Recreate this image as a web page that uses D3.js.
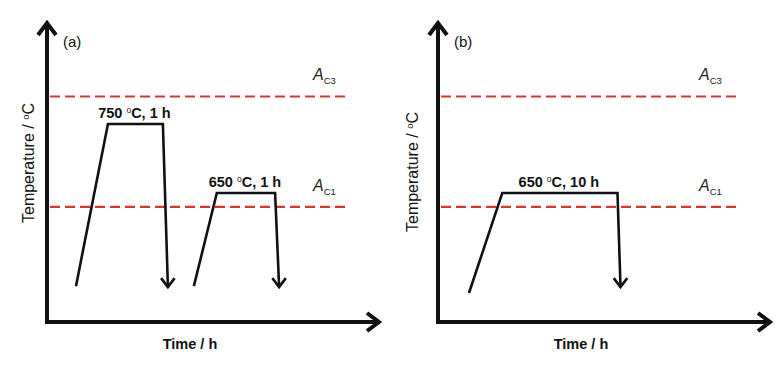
<!DOCTYPE html>
<html><head><meta charset="utf-8">
<script src="https://cdn.jsdelivr.net/npm/d3@7"></script>
<style>
html,body{margin:0;padding:0;background:#fff;}
svg{display:block;font-family:"Liberation Sans",Arial,sans-serif;}
</style></head>
<body><svg id="chart" width="783" height="367"></svg>
<script>
// ---- data (schematic time units, temperature in °C) ----
const panels = ["(a)", "(b)"];
const criticalTemps = [{name:"C3", T:790}, {name:"C1", T:630}];
// panel (a): two treatments
const profileA1 = [{t:8.7,T:515},{t:18.3,T:750},{t:34.8,T:750},{t:36.3,T:515}];
const profileA2 = [{t:44.1,T:515},{t:51.0,T:650},{t:68.5,T:650},{t:69.7,T:515}];
// panel (b): one treatment
const profileB1 = [{t:9.3,T:505},{t:19.3,T:650},{t:53.9,T:650},{t:54.8,T:515}];
const labelsA = [{temp:"750", dur:"1 h"},{temp:"650", dur:"1 h"}];
const labelsB = [{temp:"650", dur:"10 h"}];
const xTitle = "Time / h";
const yTitle = "Temperature / ";

const svg = d3.select("#chart");
const ink = "#111";
const red = "#d03a2c";

function chevron(g, x, y, dir, size, sw){
  let pts;
  if(dir==="up") pts=[[x-size*0.75,y+size],[x,y],[x+size*0.75,y+size]];
  else if(dir==="down") pts=[[x-size*0.75,y-size],[x,y],[x+size*0.75,y-size]];
  else pts=[[x-size,y-size*0.75],[x,y],[x-size,y+size*0.75]];
  g.append("path").attr("d", d3.line()(pts)).attr("fill","none")
   .attr("stroke",ink).attr("stroke-width",sw).attr("stroke-linejoin","miter").attr("stroke-linecap","butt");
}

function drawPanel(ox, label, profiles, labels, yTitleX, yTitleY, acX, dashEnd){
  const g = svg.append("g");
  const x0 = ox+47, x1 = ox+378, yBase = 322, yTop = 24;
  const x = d3.scaleLinear().domain([0,100]).range([x0, ox+380]);
  const y = d3.scaleLinear().domain([463, 898]).range([322, 22]);

  criticalTemps.forEach(c=>{
    g.append("line").attr("x1",x0+3).attr("x2",ox+dashEnd)
     .attr("y1",y(c.T)).attr("y2",y(c.T))
     .attr("stroke",red).attr("stroke-width",2.2).attr("stroke-dasharray","10,5");
    const t = g.append("text").attr("x",ox+acX).attr("y",y(c.T)-16)
      .attr("font-size",16).attr("fill","#222");
    t.append("tspan").attr("font-style","italic").text("A");
    t.append("tspan").attr("font-size",9.5).attr("dy",4).text(c.name);
  });

  const line = d3.line().x(d=>x(d.t)).y(d=>y(d.T));
  profiles.forEach((p,i)=>{
    const last = p[p.length-1];
    g.append("path").attr("d", line(p)).attr("fill","none")
     .attr("stroke",ink).attr("stroke-width",2.6).attr("stroke-linejoin","miter");
    chevron(g, x(last.t), y(last.T)+1, "down", 9, 2.6);
    const lab = labels[i];
    const cx = (x(p[1].t)+x(p[2].t))/2 - 1;
    const tt = g.append("text").attr("x",cx).attr("y",y(p[1].T)-6)
      .attr("text-anchor","middle").attr("font-size",14.5).attr("font-weight","bold").attr("fill",ink);
    tt.append("tspan").text(lab.temp+" ");
    tt.append("tspan").attr("font-size",8.5).attr("font-weight","normal").attr("dy",-5).text("o");
    tt.append("tspan").attr("dy",5).text("C, "+lab.dur);
  });

  g.append("line").attr("x1",x0).attr("x2",x0).attr("y1",yBase+2).attr("y2",yTop)
   .attr("stroke",ink).attr("stroke-width",4);
  g.append("line").attr("x1",x0-2).attr("x2",x1).attr("y1",yBase).attr("y2",yBase)
   .attr("stroke",ink).attr("stroke-width",4);
  chevron(g, x0, yTop-1, "up", 12, 4);
  chevron(g, x1+1, yBase, "right", 12, 4);

  g.append("text").attr("x",ox+63).attr("y",47).attr("font-size",15).attr("fill",ink).text(label);

  g.append("text").attr("x",ox+190).attr("y",349).attr("text-anchor","middle")
   .attr("font-size",14.5).attr("font-weight","bold").attr("fill",ink).text(xTitle);
  const yt = g.append("text").attr("transform",`translate(${ox+yTitleX},${yTitleY}) rotate(-90)`)
   .attr("text-anchor","middle").attr("font-size",16).attr("fill",ink);
  yt.append("tspan").text(yTitle);
  yt.append("tspan").attr("font-size",9.5).attr("dy",-5).text("o");
  yt.append("tspan").attr("dy",5).text("C");
}

drawPanel(0, panels[0], [profileA1, profileA2], labelsA, 34, 163, 313, 347);
drawPanel(391, panels[1], [profileB1], labelsB, 27, 172, 308, 347);
</script></body></html>
